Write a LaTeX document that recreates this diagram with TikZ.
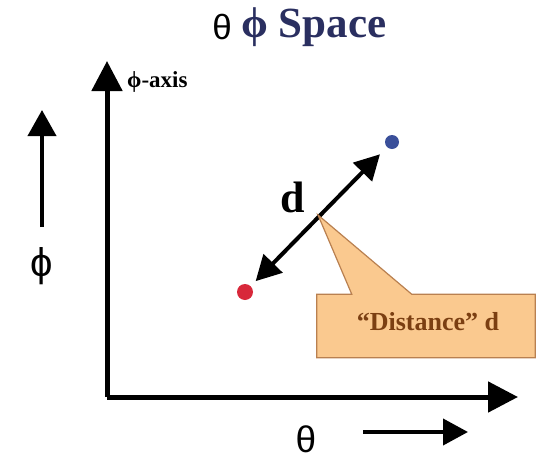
\documentclass[tikz,border=0pt]{standalone}
\usepackage{fontspec}
\setmainfont{Liberation Serif}
\newfontfamily\greeksans{Liberation Sans}
\usetikzlibrary{positioning,arrows.meta}

\definecolor{titlenavy}{HTML}{2A2F60}
\definecolor{dotblue}{HTML}{3A4F9A}
\definecolor{dotred}{HTML}{D8283A}
\definecolor{calloutfill}{HTML}{FAC98F}
\definecolor{calloutline}{HTML}{B98050}
\definecolor{callouttext}{HTML}{7B3F12}

\begin{document}
\begin{tikzpicture}[x=1pt, y=-1pt,
  axis/.style={line width=5pt, -{Triangle[length=30pt,width=30pt]}},
  hint/.style={line width=4pt, -{Triangle[length=26pt,width=28pt]}},
  point/.style={circle, inner sep=0pt, minimum size=15pt},
  callout/.style={draw=calloutline, fill=calloutfill, line width=1.2pt}]
\useasboundingbox (0,0) rectangle (539,461);

% title
\node[inner sep=0pt, font=\greeksans\fontsize{35}{38}\selectfont] (titletheta) at (222,27) {θ};
\node[anchor=base west, inner sep=0pt, text=titlenavy, font=\bfseries\fontsize{43}{45}\selectfont] (title) at (241,37) {ϕ Space};

% axes
\coordinate (O) at (107,397);
\coordinate (ytip) at (107,61);
\coordinate (xtip) at (518,397);
\draw[axis] (O) -- (ytip);
\draw[axis] (O) -- (xtip);
\node[anchor=base west, inner sep=0pt, font=\bfseries\fontsize{23}{25}\selectfont] (ylab) at (127,87) {ϕ-axis};

% side hints
\node[inner sep=0pt, font=\greeksans\fontsize{40}{44}\selectfont] (phi) at (42,266) {ϕ};
\coordinate (phitail) at (42,227);
\coordinate (phitip) at (42,110);
\draw[hint] (phitail) -- (phitip);
\node[inner sep=0pt, font=\greeksans\fontsize{37}{40}\selectfont] (theta) at (306,439) {θ};
\coordinate (thetatail) at (363,432);
\coordinate (thetatip) at (468,432);
\draw[hint, -{Triangle[length=25pt,width=26pt]}] (thetatail) -- (thetatip);

% the two points and their distance
\node[point, fill=dotblue, minimum size=14pt] (b) at (392,142) {};
\node[point, fill=dotred, minimum size=16pt] (r) at (245,292) {};
\draw[line width=4pt, {Triangle[length=25pt,width=26pt]}-{Triangle[length=25pt,width=26pt]}, shorten <=7pt, shorten >=10pt] (r) -- (b);
\coordinate (mid) at (318,215);
\node[anchor=base, inner sep=0pt, font=\bfseries\fontsize{44}{46}\selectfont] (dlab) at (293,212) {d};

% callout
\node[minimum width=218pt, minimum height=63pt, inner sep=0pt] (dist) at (426,326) {};
\filldraw[callout] (dist.north west) -- ([xshift=35pt]dist.north west) -- (mid)
  -- ([xshift=95pt]dist.north west) -- (dist.north east) -- (dist.south east)
  -- (dist.south west) -- cycle;
\node[font=\bfseries\fontsize{26}{28}\selectfont, text=callouttext] (disttext) at (428,322) {“Distance” d};
\end{tikzpicture}
\end{document}
